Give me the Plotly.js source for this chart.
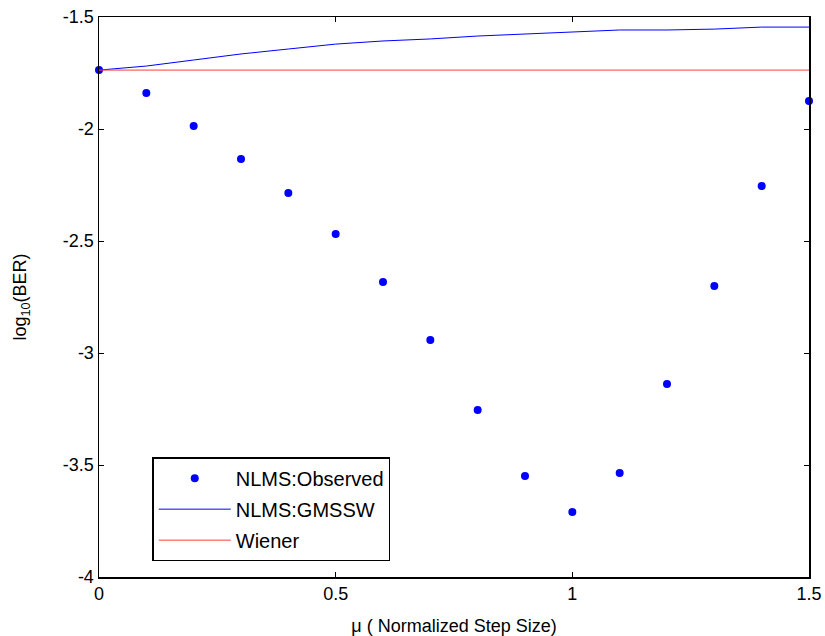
<!DOCTYPE html>
<html>
<head>
<meta charset="utf-8">
<script src="https://cdn.plot.ly/plotly-3.0.1.min.js"></script>
<style>html,body{margin:0;padding:0;background:#fff;}#chart{width:825px;height:636px;}</style>
</head>
<body>
<div id="chart"></div>
<script>
const mu = [0, 0.1, 0.2, 0.3, 0.4, 0.5, 0.6, 0.7, 0.8, 0.9, 1.0, 1.1, 1.2, 1.3, 1.4, 1.5];
const observed = [-1.737, -1.839, -1.987, -2.134, -2.286, -2.469, -2.683, -2.942, -3.254, -3.549, -3.710, -3.536, -3.138, -2.701, -2.254, -1.875];
const gmssw = [-1.737, -1.719, -1.692, -1.665, -1.643, -1.621, -1.607, -1.598, -1.585, -1.576, -1.567, -1.558, -1.558, -1.554, -1.545, -1.545];
const wiener = [-1.737, -1.737, -1.737, -1.737, -1.737, -1.737, -1.737, -1.737, -1.737, -1.737, -1.737, -1.737, -1.737, -1.737, -1.737, -1.737];
const xTicks = [0, 0.5, 1, 1.5];
const xTickText = ['0', '0.5', '1', '1.5'];
const yTicks = [-4, -3.5, -3, -2.5, -2, -1.5];
const yTickText = ['-4', '-3.5', '-3', '-2.5', '-2', '-1.5'];

const font = {family: 'Liberation Sans, Arial, sans-serif', size: 18, color: '#000'};
const traces = [
  {x: mu, y: observed, name: 'NLMS:Observed', mode: 'markers', type: 'scatter', legendgroup: 'a',
   marker: {color: 'rgb(0,0,255)', size: 8}, cliponaxis: false},
  {x: mu, y: gmssw, name: 'NLMS:GMSSW', mode: 'lines', type: 'scatter', legendgroup: 'b',
   line: {color: 'rgb(0,0,255)', width: 1}},
  {x: mu, y: wiener, name: 'Wiener', mode: 'lines', type: 'scatter', legendgroup: 'c',
   line: {color: 'rgb(255,60,60)', width: 1}}
];
const axisCommon = {
  showgrid: false, zeroline: false, showline: true, linecolor: '#000', linewidth: 1.5,
  mirror: 'ticks', ticks: 'inside', ticklen: 5, tickcolor: '#000', tickfont: font
};
const layout = {
  width: 825, height: 636,
  margin: {l: 99, r: 16, t: 17, b: 59},
  paper_bgcolor: '#fff', plot_bgcolor: '#fff',
  font: font,
  showlegend: true,
  legend: {x: 0.075, y: 0.214, xanchor: 'left', yanchor: 'top',
    bordercolor: '#000', borderwidth: 1.5, bgcolor: '#fff',
    font: {family: 'Liberation Sans, Arial, sans-serif', size: 20, color: '#000'},
    itemwidth: 72, tracegroupgap: 2},
  xaxis: Object.assign({}, axisCommon, {
    range: [0, 1.5], tickvals: xTicks, ticktext: xTickText,
    title: {text: 'μ ( Normalized Step Size)', font: font, standoff: 17}
  }),
  yaxis: Object.assign({}, axisCommon, {
    range: [-4, -1.5], tickvals: yTicks, ticktext: yTickText,
    title: {text: 'log<sub>10</sub>(BER)', font: font, standoff: 31}
  })
};
Plotly.newPlot('chart', traces, layout, {displayModeBar: false, staticPlot: true});
</script>
</body>
</html>
